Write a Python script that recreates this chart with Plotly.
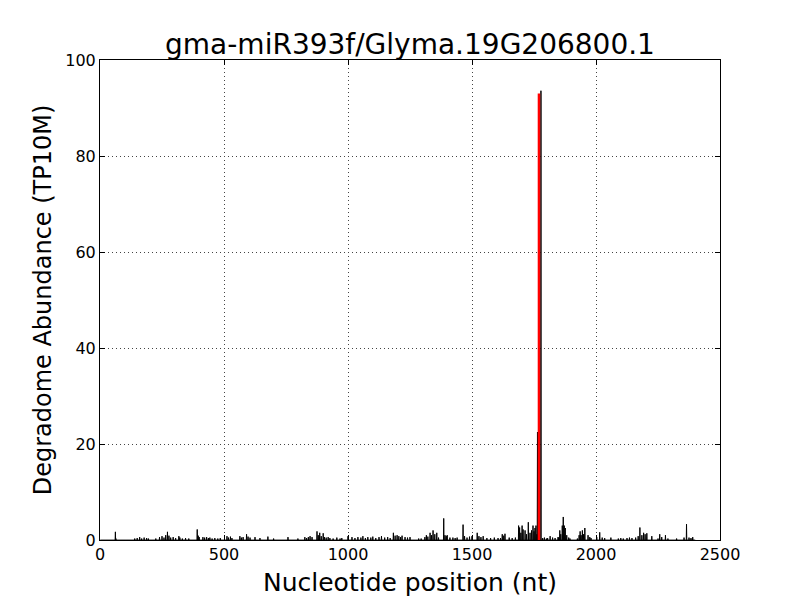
import plotly.graph_objects as go

title_text = "gma-miR393f/Glyma.19G206800.1"
x_label = "Nucleotide position (nt)"
y_label = "Degradome Abundance (TP10M)"

transcript_length = 2400
cleavage_site = 1770
cleavage_value = 93.0

# nonzero degradome signal (position, TP10M)
peak_positions = [
    62, 64, 140, 150, 160, 168, 178, 188, 195, 225, 240, 250, 258, 265, 272, 278,
    285, 295, 305, 318, 322, 332, 345, 358, 392, 396, 400, 415, 422, 430, 437, 443,
    452, 463, 475, 485, 512, 518, 526, 532, 564, 570, 577, 591, 597, 605, 625, 645,
    677, 700, 758, 798, 826, 833, 840, 847, 855, 875, 880, 886, 892, 900, 905, 912,
    920, 927, 940, 955, 968, 975, 1000, 1016, 1028, 1040, 1052, 1060, 1070, 1080,
    1092, 1100, 1112, 1125, 1135, 1148, 1160, 1170, 1183, 1190, 1198, 1205, 1212,
    1218, 1230, 1240, 1250, 1285, 1295, 1310, 1316, 1322, 1331, 1337, 1343, 1350,
    1358, 1365, 1386, 1391, 1396, 1400, 1411, 1423, 1432, 1440, 1464, 1470, 1480,
    1490, 1500, 1521, 1528, 1536, 1545, 1560, 1575, 1590, 1605, 1615, 1622, 1628,
    1633, 1650, 1662, 1675, 1688, 1692, 1697, 1702, 1706, 1714, 1720, 1727, 1734,
    1740, 1746, 1750, 1754, 1758, 1762, 1764, 1770, 1778, 1785, 1792, 1800, 1805,
    1815, 1825, 1835, 1847, 1850, 1854, 1858, 1864, 1868, 1872, 1876, 1882, 1890,
    1895, 1925, 1932, 1936, 1940, 1945, 1950, 1955, 1968, 1975, 1980, 2003, 2015,
    2025, 2035, 2060, 2090, 2100, 2110, 2125, 2135, 2145, 2160, 2170, 2177, 2185,
    2192, 2198, 2205, 2225, 2250, 2257, 2265, 2280, 2290, 2325, 2355, 2365, 2375,
    2383, 2390,
]
peak_values = [
    1.7, 0.3, 0.3, 0.4, 0.6, 0.3, 0.5, 0.4, 0.3, 0.3, 0.6, 0.8, 0.5, 1.0, 1.7, 0.9,
    0.5, 0.6, 0.4, 0.8, 0.5, 0.3, 0.4, 0.3, 2.2, 0.9, 0.6, 0.6, 0.5, 0.6, 0.4, 0.5,
    0.3, 0.4, 0.3, 0.4, 0.8, 0.5, 0.7, 0.4, 0.8, 0.5, 0.6, 1.2, 0.7, 0.5, 0.6, 0.4,
    0.7, 0.3, 0.6, 0.3, 0.6, 0.4, 0.6, 0.8, 0.6, 1.8, 1.0, 1.5, 0.8, 1.4, 0.6, 0.5,
    0.6, 0.4, 0.3, 0.5, 0.3, 0.4, 0.8, 0.6, 0.4, 0.6, 0.5, 0.8, 0.4, 0.6, 0.5, 0.7,
    0.4, 0.6, 0.8, 0.5, 0.6, 0.4, 1.5, 0.9, 1.0, 0.8, 0.6, 0.9, 0.6, 0.5, 0.6, 0.3,
    0.3, 0.6, 1.0, 0.7, 1.5, 1.0, 2.0, 1.2, 1.5, 0.5, 4.5, 1.0, 0.8, 1.0, 0.5, 0.5,
    0.4, 0.5, 3.2, 0.8, 0.5, 0.7, 0.8, 1.5, 0.8, 0.6, 0.8, 0.4, 0.4, 0.5, 0.4, 0.4,
    1.2, 0.9, 1.3, 0.5, 0.4, 0.5, 3.0, 2.6, 1.5, 3.0, 2.2, 2.0, 1.2, 3.7, 1.5, 2.0,
    3.0, 1.8, 2.5, 3.0, 1.2, 22.5, 4.0, 93.6, 0.4, 0.5, 0.3, 0.4, 0.8, 0.5, 0.4,
    0.6, 0.5, 2.0, 1.2, 3.0, 4.8, 3.0, 2.5, 1.0, 0.5, 0.3, 0.3, 1.0, 1.8, 1.0, 2.0,
    1.2, 2.5, 1.0, 0.6, 0.4, 0.6, 1.6, 0.5, 0.4, 0.5, 0.3, 0.4, 0.3, 0.4, 0.5, 0.4,
    0.5, 0.8, 2.6, 1.0, 1.5, 1.2, 1.4, 0.8, 0.3, 1.2, 0.6, 1.0, 0.3, 0.3, 0.5, 3.3,
    0.5, 0.4, 0.6, 0.3,
]

x_ticks = [0, 500, 1000, 1500, 2000, 2500]
y_ticks = [0, 20, 40, 60, 80, 100]

# dense per-nucleotide profile (zero where no signal was read)
signal = dict(zip(peak_positions, peak_values))
positions = list(range(1, transcript_length + 1))
abundance = [signal.get(p, 0.0) for p in positions]

fig = go.Figure()
fig.add_trace(go.Scatter(x=positions, y=abundance, mode="lines",
                         line=dict(color="black", width=1, simplify=False),
                         showlegend=False))
fig.add_trace(go.Scatter(x=[cleavage_site, cleavage_site], y=[0, cleavage_value],
                         mode="lines", line=dict(color="red", width=2.5),
                         showlegend=False))

font = "DejaVu Sans, Liberation Sans, sans-serif"
axis_common = dict(
    showline=True, linecolor="black", linewidth=1, mirror="allticks",
    ticks="inside", ticklen=5, tickcolor="black", tickwidth=1,
    showgrid=True, gridcolor="#444", gridwidth=1, griddash="1px,3px",
    zeroline=False, automargin=False,
    tickfont=dict(family=font, size=16, color="black"),
)

# page body has an 8px margin; figure is sized so the plot area lands at
# x 100..720, y 60..540 in the window
W, H = 792, 592
fig.update_layout(
    width=W, height=H,
    margin=dict(l=92, r=80, t=52, b=60),
    paper_bgcolor="white", plot_bgcolor="white",
    title=dict(text=title_text, x=0.5, xanchor="center", xref="paper",
               y=1 - 36 / H, yref="container", yanchor="middle",
               font=dict(family=font, size=28, color="black")),
    xaxis=dict(range=[0, 2500], tickvals=x_ticks,
               title=dict(text=x_label, standoff=10,
                          font=dict(family=font, size=25, color="black")),
               **axis_common),
    yaxis=dict(range=[0, 100], tickvals=y_ticks,
               title=dict(text=y_label, standoff=6,
                          font=dict(family=font, size=24, color="black")),
               **axis_common),
)

join_fix = (
    "var gd=document.getElementById('{plot_id}');"
    "function fixJoins(){gd.querySelectorAll('.scatterlayer .js-line')"
    ".forEach(function(p){p.style.strokeLinejoin='round';});}"
    "fixJoins();gd.on('plotly_afterplot',fixJoins);"
)
fig.write_html("out.html", post_script=join_fix)
